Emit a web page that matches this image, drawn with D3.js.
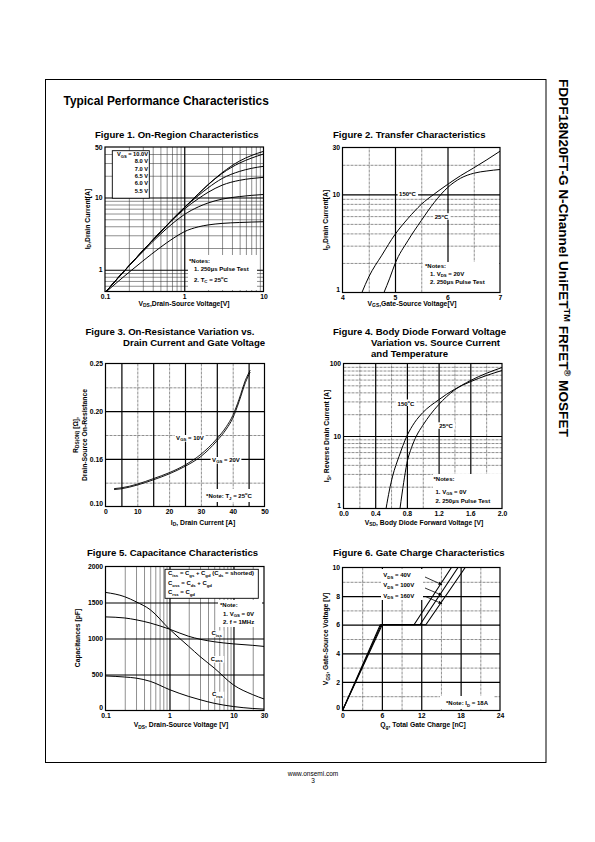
<!DOCTYPE html>
<html><head><meta charset="utf-8">
<script src="https://cdn.jsdelivr.net/npm/d3@7"></script>
<style>html,body{margin:0;padding:0;background:#fff} svg{display:block}</style>
</head><body>
<script>
// ---------------- DATA ----------------
// Figure 1: On-Region Characteristics
const fig1Vds      = [0.1,0.15,0.2,0.3,0.5,0.7,1,1.5,2,3,5,7,10];
const fig1Id_10V   = [0.48,0.80,1.13,1.84,3.34,4.9,7.25,11.2,15.1,22,32,38,43.5];
const fig1Id_8V    = [0.48,0.80,1.13,1.84,3.34,4.9,7.25,11.1,15.0,21.5,30,35,40];
const fig1Id_7V    = [0.48,0.80,1.13,1.84,3.32,4.9,7.2,10.6,13.6,18.3,23,25.3,27];
const fig1Id_6_5V  = [0.48,0.80,1.13,1.83,3.3,4.8,6.9,9.6,11.8,14.8,17.3,18.3,19];
const fig1Id_6V    = [0.48,0.79,1.12,1.78,3.1,4.3,5.8,7.4,8.4,9.5,10.3,10.7,11];
const fig1Id_5_5V  = [0.48,0.705,0.918,1.32,2.04,2.65,3.36,3.92,4.17,4.38,4.51,4.57,4.62];
const fig1Legend   = ["10.0V","8.0 V","7.0 V","6.5 V","6.0 V","5.5 V"];
const fig1XTicks   = [0.1,1,10];
const fig1YTicks   = [1,10,50];

// Figure 2: Transfer Characteristics
const fig2Vgs_150C = [4.37,4.5,4.75,5,5.25,5.5,5.75,6,6.25,6.5,6.75,7];
const fig2Id_150C  = [1,1.44,2.4,3.9,5.7,7.9,10.1,12.6,15.5,18.6,22.5,27.5];
const fig2Vgs_25C  = [4.79,4.9,5,5.25,5.5,5.75,6,6.25,6.5,6.75,7];
const fig2Id_25C   = [1,1.4,1.96,3.4,5.4,8.3,11.7,14.6,16.4,17.3,17.9];
const fig2XTicks   = [4,5,6,7];
const fig2YTicks   = [1,10,30];

// Figure 3: On-Resistance vs Drain Current
const fig3Id       = [2.7,5,10,15,20,25,30,35,38,40,42,44,45.5];
const fig3R_10V    = [0.1225,0.1235,0.1282,0.1350,0.1425,0.1522,0.1638,0.1768,0.1870,0.1962,0.2125,0.2325,0.2430];
const fig3R_20V    = [0.1213,0.1223,0.1270,0.1335,0.1410,0.1505,0.1620,0.1750,0.1850,0.1940,0.2100,0.2300,0.2410];
const fig3XTicks   = [0,10,20,30,40,50];
const fig3YTicks   = [0.10,0.16,0.20,0.25];

// Figure 4: Body Diode Forward Voltage
const fig4Vsd_150C = [0.537,0.58,0.62,0.7,0.8,0.9,1.0,1.2,1.4,1.6,1.8,2.0];
const fig4Is_150C  = [1,1.8,2.8,5.2,10,15.5,21,31.5,44,56,68,80];
const fig4Vsd_25C  = [0.713,0.76,0.8,0.86,0.92,1.0,1.1,1.2,1.4,1.6,1.8,2.0];
const fig4Is_25C   = [1,2.3,4.2,7,10,14,20,27,43,58,73,88];
const fig4XTicks   = [0,0.4,0.8,1.2,1.6,2.0];
const fig4YTicks   = [1,10,100];

// Figure 5: Capacitance Characteristics
const fig5Vds      = [0.1,0.2,0.3,0.5,1,2,3,5,10,20,30];
const fig5Coss     = [1640,1580,1510,1400,1130,890,750,590,355,220,160];
const fig5Ciss     = [1300,1285,1260,1215,1130,1030,990,955,925,905,890];
const fig5Crss     = [480,465,450,405,290,195,150,100,55,28,19];
const fig5XTicks   = [0.1,1,10,30];
const fig5YTicks   = [0,500,1000,1500,2000];

// Figure 6: Gate Charge Characteristics
const fig6Qg_40V   = [0,5.75,10.9,16.6];
const fig6Qg_100V  = [0,5.9,11.8,17.6];
const fig6Qg_160V  = [0,6.05,12.7,18.7];
const fig6Vgs      = [0,6,6,10];
const fig6XTicks   = [0,6,12,18,24];
const fig6YTicks   = [0,2,4,6,8,10];

// ---------------- RENDER ----------------
const FONT = "'Liberation Sans', Arial, Helvetica, sans-serif";
const svg = d3.select("body").append("svg").attr("width",595).attr("height",842)
  .style("font-family",FONT);
svg.append("rect").attr("width",595).attr("height",842).attr("fill","#fff");

function rich(t,str,fs){
  const parts=str.split(/(_\{[^}]*\}|\^\{[^}]*\})/).filter(s=>s.length);
  let cur=0;
  parts.forEach(p=>{
    let off=0,s=p,f=fs;
    if(p.startsWith("_{")){off=fs*0.28;s=p.slice(2,-1);f=fs*0.72;}
    else if(p.startsWith("^{")){off=-fs*0.42;s=p.slice(2,-1);f=fs*0.68;}
    t.append("tspan").attr("dy",(off-cur).toFixed(2)).attr("font-size",f).text(s);
    cur=off;
  });
  return t;
}
function txt(parent,x,y,str,fs,o={}){
  const t=parent.append("text").attr("x",x).attr("y",y).attr("font-size",fs)
    .attr("font-weight",o.weight||"bold").attr("text-anchor",o.anchor||"start").attr("fill","#000");
  if(o.transform) t.attr("transform",o.transform);
  return rich(t,str,fs);
}
function bgLabel(g,x,y,str,fs,anchor,pad){
  const t=txt(g,x,y,str,fs,{anchor:anchor||"middle"});
  const b=t.node().getBBox(); const p=pad==null?1:pad;
  g.insert("rect",()=>t.node()).attr("x",b.x-p).attr("y",b.y+0.5).attr("width",b.width+2*p).attr("height",b.height-1).attr("fill","#fff");
  return t;
}
function whiteBox(g,x,y,w,h,stroke){
  return g.append("rect").attr("x",x).attr("y",y).attr("width",w).attr("height",h)
    .attr("fill","#fff").attr("stroke",stroke?"#000":"none").attr("stroke-width",0.9);
}

let clipId=0;
function makePanel(c){
  const g=svg.append("g");
  const x=(c.xLog?d3.scaleLog():d3.scaleLinear()).domain(c.xDomain).range([c.x0,c.x1]);
  const y=c.yScale?c.yScale.range(c.yRangeFn(c.y1,c.y0)):(c.yLog?d3.scaleLog():d3.scaleLinear()).domain(c.yDomain).range([c.y1,c.y0]);
  const w=c.x1-c.x0,h=c.y1-c.y0;
  const grid=(vals,axisX,major)=>{
    const ax=(axisX?d3.axisBottom(x):d3.axisLeft(y)).tickValues(vals).tickSize(-(axisX?h:w)).tickFormat("");
    const gg=g.append("g").attr("transform",axisX?`translate(0,${c.y1})`:`translate(${c.x0},0)`).call(ax);
    gg.select(".domain").remove();
    gg.selectAll("line").attr("stroke",major?"#000":"#333").attr("stroke-width",major?1.2:0.55)
      .attr("stroke-dasharray",major?null:(axisX?c.xDash:c.yDash)||"3,1");
  };
  grid(c.xMinor,true,false); grid(c.yMinor,false,false);
  grid(c.xMajor,true,true); grid(c.yMajor,false,true);
  // tick labels
  const xa=g.append("g").attr("transform",`translate(0,${c.y1})`)
    .call(d3.axisBottom(x).tickValues(c.xTicks).tickSize(0).tickPadding(2.6).tickFormat(c.xFmt||(d=>String(d))));
  const ya=g.append("g").attr("transform",`translate(${c.x0},0)`)
    .call(d3.axisLeft(y).tickValues(c.yTicks).tickSize(0).tickPadding(2.5).tickFormat(c.yFmt||(d=>String(d))));
  [xa,ya].forEach(a=>{a.select(".domain").remove();
    a.attr("font-family",FONT).attr("font-size",6.8).attr("font-weight","bold");
    a.selectAll("text").attr("fill","#000");});
  // lift the y label sitting on the bottom edge so it clears the x labels
  const yMin=y.domain()[0];
  ya.selectAll(".tick").filter(d=>Math.abs(d-yMin)<1e-9).select("text").attr("dy","-0.1em");
  const ann=g.append("g");
  const id="clip"+(clipId++);
  g.append("clipPath").attr("id",id).append("rect").attr("x",c.x0).attr("y",c.y0).attr("width",w).attr("height",h);
  const curves=g.append("g").attr("clip-path",`url(#${id})`);
  const over=g.append("g");
  g.append("rect").attr("x",c.x0).attr("y",c.y0).attr("width",w).attr("height",h)
    .attr("fill","none").attr("stroke","#000").attr("stroke-width",1.2);
  const lineOf=(xs,ys,curve)=>d3.line().x(d=>x(d[0])).y(d=>y(d[1])).curve(curve||d3.curveMonotoneX)(xs.map((v,i)=>[v,ys[i]]));
  const draw=(xs,ys,sw,curve)=>curves.append("path").attr("d",lineOf(xs,ys,curve)).attr("fill","none")
      .attr("stroke","#000").attr("stroke-width",sw||1);
  return {g,x,y,ann,over,draw,c};
}
const logMinor=(lo,hi)=>{const r=[];for(let d=lo;d<hi;d*=10)for(let k=2;k<=9;k++){const v=+(d*k).toPrecision(3);if(v<hi)r.push(v);}return r;};

// page frame & titles
svg.append("rect").attr("x",45.5).attr("y",79.5).attr("width",500.5).attr("height",683)
  .attr("fill","none").attr("stroke","#000").attr("stroke-width",1);
txt(svg,63.5,105,"Typical Performance Characteristics",11.9);
txt(svg,0,0,"FDPF18N20FT-G N-Channel UniFET^{TM} FRFET^{®} MOSFET",13.6,{transform:"translate(558.5,79) rotate(90)"});
txt(svg,313,775.5,"www.onsemi.com",6.5,{weight:"normal",anchor:"middle"});
txt(svg,313,783,"3",6.5,{weight:"normal",anchor:"middle"});

const TF=9.6, AF=6.8, NF=6;

// ---------- Figure 1 ----------
{
  txt(svg,95,137.5,"Figure 1. On-Region Characteristics",TF);
  const P=makePanel({x0:105,x1:263.5,y0:147,y1:291.5,xLog:true,xDomain:[0.1,10],yLog:true,yDomain:[0.5,50],
    xMajor:[1],xMinor:logMinor(0.1,10),yMajor:[1,10],yMinor:[0.6,0.7,0.8,0.9].concat(logMinor(1,50)),
    xTicks:fig1XTicks,yTicks:fig1YTicks,xDash:"none",yDash:"none"});
  const {ann,c}=P;
  whiteBox(ann,c.x0+7.3,c.y0+3.7,37,47.5,true);
  fig1Legend.forEach((s,i)=>txt(ann,c.x0+43,c.y0+9+i*7.35,i===0?"V_{GS} = "+s:s,5.7,{anchor:"end"}));
  whiteBox(ann,c.x0+83,c.y0+108,69,35);
  txt(ann,c.x0+84,c.y0+115.7,"*Notes:",NF);
  txt(ann,c.x0+89,c.y0+124.2,"1. 250µs Pulse Test",NF);
  txt(ann,c.x0+89,c.y0+134.5,"2. T_{C} = 25^{o}C",NF);
  [fig1Id_10V,fig1Id_8V,fig1Id_7V,fig1Id_6_5V,fig1Id_6V,fig1Id_5_5V].forEach(a=>P.draw(fig1Vds,a,1));
  txt(svg,184,305.5,"V_{DS},Drain-Source Voltage[V]",AF,{anchor:"middle"});
  txt(svg,0,0,"I_{D},Drain Current[A]",AF,{anchor:"middle",transform:"translate(89.5,219) rotate(-90)"});
}
// ---------- Figure 2 ----------
{
  txt(svg,333,137.5,"Figure 2. Transfer Characteristics",TF);
  const P=makePanel({x0:342.5,x1:500,y0:147.5,y1:292.5,xDomain:[4,7],yLog:true,yDomain:[1,30],
    xMajor:[5,6],xMinor:[4.5,5.5,6.5],yMajor:[10],yMinor:logMinor(1,30),
    xTicks:fig2XTicks,yTicks:fig2YTicks});
  const {ann,c}=P;
  whiteBox(ann,c.x0+80.5,c.y0+114.5,76,30);
  txt(ann,c.x0+82.5,c.y0+120,"*Notes:",NF);
  txt(ann,c.x0+87.5,c.y0+128.3,"1. V_{DS} = 20V",NF);
  txt(ann,c.x0+87.5,c.y0+136.8,"2. 250µs Pulse Test",NF);
  bgLabel(ann,c.x0+65,c.y0+48.8,"150^{o}C",NF,"middle",1.5);
  bgLabel(ann,c.x0+99,c.y0+71.7,"25^{o}C",NF,"middle",1.5);
  P.draw(fig2Vgs_150C,fig2Id_150C,1);
  P.draw(fig2Vgs_25C,fig2Id_25C,1);
  txt(svg,412,305.5,"V_{GS},Gate-Source Voltage[V]",AF,{anchor:"middle"});
  txt(svg,0,0,"I_{D},Drain Current[A]",AF,{anchor:"middle",transform:"translate(328,220) rotate(-90)"});
}
// ---------- Figure 3 ----------
{
  txt(svg,85.5,335,"Figure 3. On-Resistance Variation vs.",TF);
  txt(svg,123,346,"Drain Current and Gate Voltage",TF);
  const P=makePanel({x0:105.5,x1:264.5,y0:363.5,y1:506.5,xDomain:[0,50],
    yScale:d3.scaleLinear().domain(fig3YTicks),yRangeFn:(b,t)=>[b,b+(t-b)/3,b+2*(t-b)/3,t],
    xMajor:[5,15,25,35,45],xMinor:[10,20,30,40],yMajor:[0.16,0.20],yMinor:[0.13,0.18,0.225],
    xTicks:fig3XTicks,yTicks:fig3YTicks,yFmt:d3.format(".2f")});
  const {ann,c}=P;
  bgLabel(ann,c.x0+84.5,c.y0+76,"V_{GS} = 10V",NF,"middle",1.5);
  bgLabel(ann,c.x0+120.5,c.y0+98,"V_{GS} = 20V",NF,"middle",1.5);
  whiteBox(ann,c.x0+97.5,c.y0+125.5,53,13);
  txt(ann,c.x0+123.5,c.y0+134.5,"*Note: T_{J} = 25^{o}C",NF,{anchor:"middle"});
  P.draw(fig3Id,fig3R_10V,0.9);
  P.draw(fig3Id,fig3R_20V,0.9);
  txt(svg,203,524.5,"I_{D}, Drain Current [A]",AF,{anchor:"middle"});
  txt(svg,0,0,"R_{DS(ON)} [Ω],",AF,{anchor:"middle",transform:"translate(77.5,435) rotate(-90)"});
  txt(svg,0,0,"Drain-Source On-Resistance",AF,{anchor:"middle",transform:"translate(86.8,435) rotate(-90)"});
}
// ---------- Figure 4 ----------
{
  txt(svg,333,335,"Figure 4. Body Diode Forward Voltage",TF);
  txt(svg,371,346,"Variation vs. Source Current",TF);
  txt(svg,371,356.7,"and Temperature",TF);
  const P=makePanel({x0:343.5,x1:502,y0:363.5,y1:508.5,xDomain:[0,2],yLog:true,yDomain:[1,100],
    xMajor:[0.4,0.8,1.2,1.6],xMinor:[0.2,0.6,1.0,1.4,1.8],yMajor:[10],yMinor:logMinor(1,100),
    xTicks:fig4XTicks,yTicks:fig4YTicks,xFmt:d3.format(".1f")});
  const {ann,c}=P;
  whiteBox(ann,c.x0+89.5,c.y0+110.5,69,34.5);
  txt(ann,c.x0+90,c.y0+117.5,"*Notes:",NF);
  txt(ann,c.x0+92,c.y0+130.3,"1. V_{GS} = 0V",NF);
  txt(ann,c.x0+92,c.y0+139,"2. 250µs Pulse Test",NF);
  bgLabel(ann,c.x0+62.5,c.y0+42,"150^{o}C",NF,"middle",1.5);
  bgLabel(ann,c.x0+102.5,c.y0+64.8,"25^{o}C",NF,"middle",1.5);
  P.draw(fig4Vsd_150C,fig4Is_150C,1);
  P.draw(fig4Vsd_25C,fig4Is_25C,1);
  txt(svg,424,524.5,"V_{SD}, Body Diode Forward Voltage [V]",AF,{anchor:"middle"});
  txt(svg,0,0,"I_{S}, Reverse Drain Current [A]",AF,{anchor:"middle",transform:"translate(329,436) rotate(-90)"});
}
// ---------- Figure 5 ----------
{
  txt(svg,87,555.5,"Figure 5. Capacitance Characteristics",TF);
  const P=makePanel({x0:105.5,x1:264,y0:566.5,y1:710.5,xLog:true,xDomain:[0.1,30],yDomain:[0,2000],
    xMajor:[1,10],xMinor:logMinor(0.1,30),yMajor:[500,1000,1500],yMinor:[],
    xTicks:fig5XTicks,yTicks:fig5YTicks,xDash:"none"});
  const {ann,c}=P;
  whiteBox(ann,c.x0+59.5,c.y0+2.8,93.3,29,true);
  txt(ann,c.x0+62.5,c.y0+8.8,"C_{iss} = C_{gs} + C_{gd} (C_{ds} = shorted)",5.95);
  txt(ann,c.x0+62.5,c.y0+18.5,"C_{oss} = C_{ds} + C_{gd}",5.95);
  txt(ann,c.x0+62.5,c.y0+27.5,"C_{rss} = C_{gd}",5.95);
  whiteBox(ann,c.x0+112.5,c.y0+33.5,44,27);
  txt(ann,c.x0+114.5,c.y0+40.8,"*Note:",NF);
  txt(ann,c.x0+117.5,c.y0+49.1,"1. V_{GS} = 0V",NF);
  txt(ann,c.x0+117.5,c.y0+57.5,"2. f = 1MHz",NF);
  bgLabel(ann,c.x0+111.2,c.y0+68.5,"C_{iss}",NF,"middle",1);
  bgLabel(ann,c.x0+111.2,c.y0+94,"C_{oss}",NF,"middle",1);
  bgLabel(ann,c.x0+111.8,c.y0+129.7,"C_{rss}",NF,"middle",1);
  P.draw(fig5Vds,fig5Coss,1);
  P.draw(fig5Vds,fig5Ciss,1);
  P.draw(fig5Vds,fig5Crss,1);
  txt(svg,181,727,"V_{DS}, Drain-Source Voltage [V]",AF,{anchor:"middle"});
  txt(svg,0,0,"Capacitances [pF]",AF,{anchor:"middle",transform:"translate(80,638) rotate(-90)"});
}
// ---------- Figure 6 ----------
{
  txt(svg,333,555.5,"Figure 6. Gate Charge Characteristics",TF);
  const P=makePanel({x0:342.5,x1:500,y0:567.5,y1:710.5,xDomain:[0,24],yDomain:[0,10],
    xMajor:[6,12,18],xMinor:[3,9,15,21],yMajor:[2,4,6,8],yMinor:[1,3,5,7,9],
    xTicks:fig6XTicks,yTicks:fig6YTicks});
  const {ann,over,c}=P;
  whiteBox(ann,c.x0+38.5,c.y0+1.5,42,31);
  ["V_{DS} = 40V","V_{DS} = 100V","V_{DS} = 160V"].forEach((s,i)=>txt(ann,c.x0+40.8,c.y0+9.5+i*10.25,s,NF));
  whiteBox(ann,c.x0+97.5,c.y0+128.5,54,13);
  txt(ann,c.x0+124.5,c.y0+137.7,"*Note: I_{D} = 18A",NF,{anchor:"middle"});
  P.draw(fig6Qg_40V,fig6Vgs,1.1,d3.curveLinear);
  P.draw(fig6Qg_100V,fig6Vgs,1.1,d3.curveLinear);
  P.draw(fig6Qg_160V,fig6Vgs,1.1,d3.curveLinear);
  const defs=svg.append("defs");
  defs.append("marker").attr("id","arr").attr("viewBox","0 0 10 10").attr("refX",9).attr("refY",5)
    .attr("markerWidth",5).attr("markerHeight",5).attr("orient","auto")
    .append("path").attr("d","M0,1L10,5L0,9z").attr("fill","#000");
  [[9.5,17.2],[20.5,27.8],[28.8,36.2]].forEach(([a,b])=>{
    over.append("line").attr("x1",c.x0+82.5).attr("y1",c.y0+a).attr("x2",c.x0+99.5).attr("y2",c.y0+b)
      .attr("stroke","#000").attr("stroke-width",0.8).attr("marker-end","url(#arr)");
  });
  txt(svg,423,727,"Q_{g}, Total Gate Charge [nC]",AF,{anchor:"middle"});
  txt(svg,0,0,"V_{GS}, Gate-Source Voltage [V]",AF,{anchor:"middle",transform:"translate(328,639) rotate(-90)"});
}
</script>
</body></html>
